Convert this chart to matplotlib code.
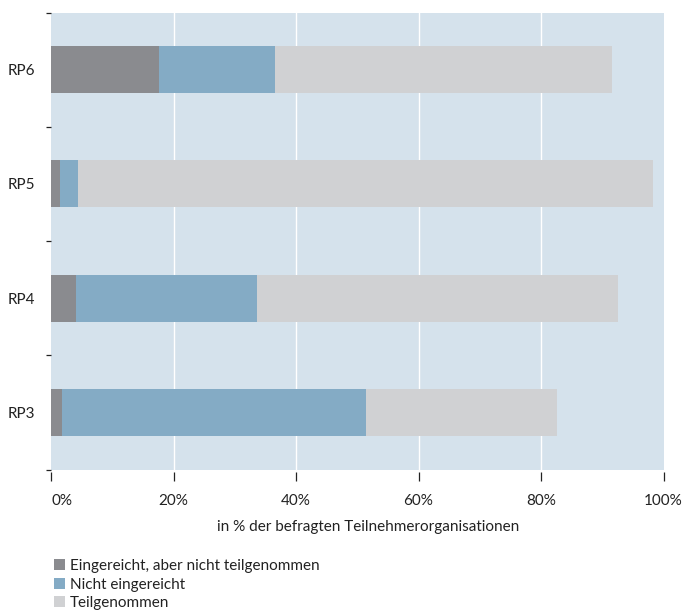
import matplotlib
matplotlib.use("Agg")
import matplotlib.pyplot as plt
from matplotlib.patches import Patch
import numpy as np

plt.rcParams['font.family'] = ['Lato', 'DejaVu Sans']

categories = ["RP3", "RP4", "RP5", "RP6"]
series_names = ["Eingereicht, aber nicht teilgenommen", "Nicht eingereicht", "Teilgenommen"]
eingereicht_nicht_teilgenommen = [1.8, 4.1, 1.5, 17.7]
nicht_eingereicht = [49.7, 29.5, 2.9, 18.8]
teilgenommen = [31.1, 59.0, 93.9, 55.1]
x_ticks = [0, 20, 40, 60, 80, 100]
x_tick_labels = ["0%", "20%", "40%", "60%", "80%", "100%"]
x_label = "in % der befragten Teilnehmerorganisationen"

colors = ["#8a8b8f", "#84abc5", "#d0d1d3"]
bg = "#d5e2ec"
txt = "#222222"

fig = plt.figure(figsize=(6.82, 6.13), dpi=100)
ax = fig.add_axes([51/682, 1 - 469.5/613, (663.5 - 51)/682, (469.5 - 12.5)/613])
ax.set_facecolor(bg)

y = np.arange(len(categories))
left = np.zeros(len(categories))
for vals, c, name in zip([eingereicht_nicht_teilgenommen, nicht_eingereicht, teilgenommen], colors, series_names):
    ax.barh(y, vals, left=left, height=0.41, color=c, label=name, zorder=3)
    left += np.array(vals)

ax.set_xlim(0, 100)
ax.set_ylim(-0.5, len(categories) - 0.5)

for s in ax.spines.values():
    s.set_visible(False)
ax.spines['bottom'].set_position(('outward', 2))

ax.set_xticks(x_ticks)
ax.set_xticklabels(x_tick_labels, fontsize=11, color=txt)
ax.get_xticklabels()[0].set_horizontalalignment('left')
ax.tick_params(axis='x', direction='out', length=6.5, width=0.9, color=txt, pad=9)
for gx in x_ticks[1:-1]:
    ax.axvline(gx, color="white", lw=1.0, zorder=1)

ax.set_yticks(y)
ax.set_yticklabels(categories, fontsize=11, color=txt)
ax.tick_params(axis='y', which='major', length=0, pad=11.5)
ax.set_yticks(np.arange(-0.5, len(categories), 1.0), minor=True)
ax.tick_params(axis='y', which='minor', direction='out', length=3.6, width=0.9, color=txt)

ax.set_xlabel(x_label, fontsize=11, color=txt, labelpad=10)
ax.xaxis.set_label_coords((368 - 51) / 612.5, -(527 - 469.5) / 457, transform=ax.transAxes)
ax.xaxis.label.set_verticalalignment('center')

handles = [Patch(facecolor=c, edgecolor='none') for c in colors]
fig.legend(handles, series_names, loc='upper left', bbox_to_anchor=(54/682, 1 - 559/613),
           frameon=False, fontsize=11, handlelength=0.75, handleheight=0.75,
           handletextpad=0.3, labelspacing=0.3, borderaxespad=0, borderpad=0,
           labelcolor=txt)

fig.savefig("out.png", dpi=100)
